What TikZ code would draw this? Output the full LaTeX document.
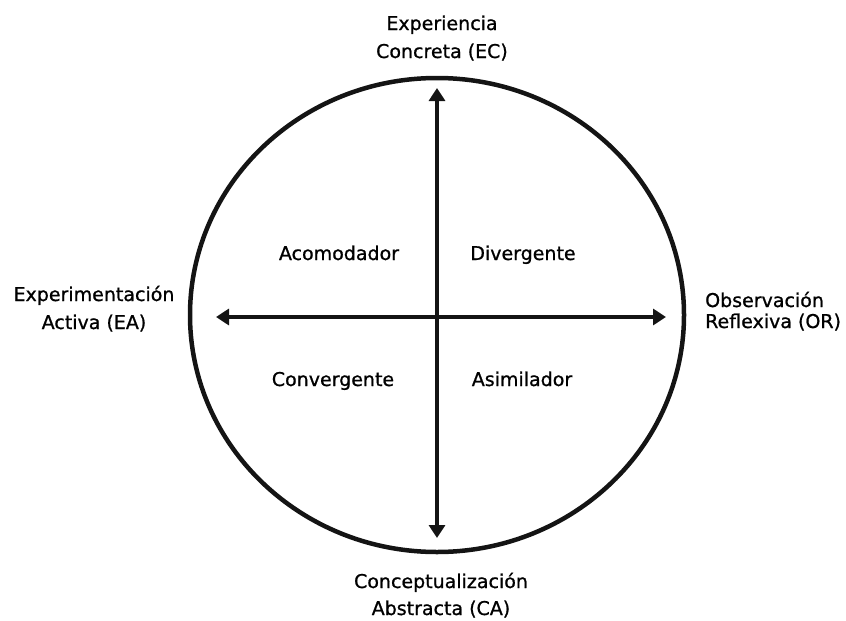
\documentclass[tikz,border=0pt]{standalone}
\usepackage{fontspec}
\setmainfont{DejaVu Sans}
\newfontfamily\labelfont{DejaVu Sans}[FakeBold=0.9]
\usetikzlibrary{arrows.meta}

\begin{document}
\begin{tikzpicture}[x=1pt,y=-1pt,
  rim/.style={line width=4.5pt, draw=black!92},
  axis/.style={line width=3.3pt, draw=black!92,
    {Triangle[length=13pt,width=16pt]}-{Triangle[length=13pt,width=16pt]}},
  pole/.style={inner sep=0pt, align=center, anchor=base,
    font=\labelfont\fontsize{19}{28}\selectfont},
  style/.style={inner sep=0pt, anchor=base, font=\labelfont\fontsize{19}{28}\selectfont}
]
  \useasboundingbox (0,0) rectangle (846,621);

  % the learning cycle
  \draw[rim] (437,315) ellipse [x radius=247, y radius=237];

  % ends of the two axes
  \coordinate (ec) at (437,88);
  \coordinate (ca) at (437,538);
  \coordinate (ea) at (216,317);
  \coordinate (or) at (666,317);

  \draw[axis] (ca) -- (ec);
  \draw[axis] (ea) -- (or);

  % poles of the cycle (anchored on the baseline of their last line)
  \node[pole] (nEC) at (442,58) {Experiencia\\Concreta (EC)};
  \node[pole] (nEA) at (94,329) {Experimentación\\Activa (EA)};
  \node[pole, align=left, anchor=base west,
        font=\labelfont\fontsize{19}{21}\selectfont] (nOR) at (705,328) {Observación\\Reflexiva (OR)};
  \node[pole, font=\labelfont\fontsize{19}{27}\selectfont] (nCA) at (441,615) {Conceptualización\\Abstracta (CA)};

  % learning styles
  \node[style] (acom) at (339,260) {Acomodador};
  \node[style] (div)  at (523,260) {Divergente};
  \node[style] (conv) at (333,386) {Convergente};
  \node[style] (asim) at (522,386) {Asimilador};
\end{tikzpicture}
\end{document}
